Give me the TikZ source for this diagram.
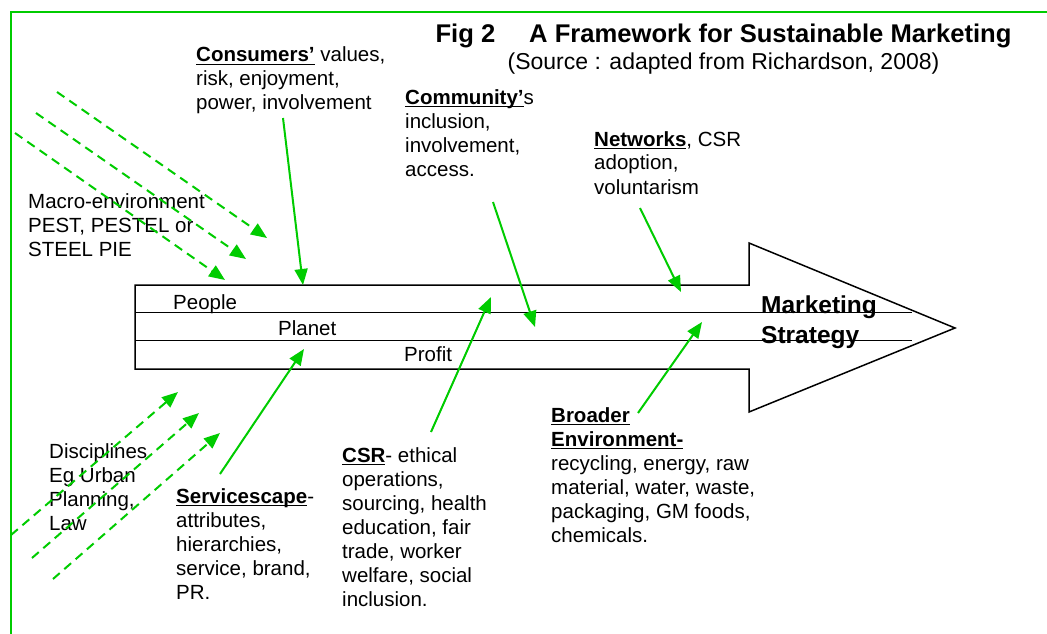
\documentclass[tikz,border=0pt]{standalone}
\usepackage{fontspec}
\setmainfont{Liberation Sans}
\usetikzlibrary{arrows.meta}
\definecolor{grn}{RGB}{0,204,0}
\newcommand\myul[1]{\setbox0\hbox{#1}\rlap{\rule[-2.8pt]{\wd0}{1.2pt}}\box0\relax}
\newcommand\txtblock[1]{\vtop{\baselineskip=24pt\lineskiplimit=-100pt\lineskip=0pt #1}}
\newcommand\rowx[1]{\hbox{#1}}
\begin{document}
\begin{tikzpicture}[x=1pt,y=-1pt,
  body/.style={font=\fontsize{20.5}{24}\selectfont, inner sep=0pt, anchor=base west},
  solidarrow/.style={draw=grn, line width=2pt, -{Triangle[length=16pt,width=13pt]}},
  dasharrow/.style={draw=grn, line width=2pt, dash pattern=on 9pt off 6pt, -{Triangle[length=16pt,width=13pt]}},
  outline/.style={draw=black, line width=1.5pt}]
\useasboundingbox (0,0) rectangle (1047,634);
\fill[white] (0,0) rectangle (1047,634);
% border
\draw[grn, line width=1.5pt] (1047,12) -- (11,12) -- (11,634);
% title
\node[font=\fontsize{25.6}{30}\selectfont\bfseries, inner sep=0pt, anchor=base] (title) at (723.5,43) {Fig 2\hspace*{34pt}A Framework for Sustainable Marketing};
\node[font=\fontsize{23}{27}\selectfont, inner sep=0pt, anchor=base] (source) at (723.5,70) {(Source : adapted from Richardson, 2008)};
% big arrow
\draw[outline, line join=miter] (135,285) -- (749,285) -- (749,243) -- (955,328) -- (749,412) -- (749,369) -- (135,369) -- cycle;
\draw[outline] (135,312.5) -- (912,312.5);
\draw[outline] (135,340.5) -- (912,340.5);
\node[body] (people) at (173,309) {People};
\node[body] (planet) at (278,335) {Planet};
\node[body] (profit) at (404,361) {Profit};
\node[font=\fontsize{24.5}{30}\selectfont\bfseries, inner sep=0pt, anchor=base west] (mkt) at (761,313)
  {\vtop{\baselineskip=30pt\lineskiplimit=-100pt\lineskip=0pt \rowx{Marketing}\rowx{Strategy}}};
% text blocks
\node[body] (cons) at (196,62) {\txtblock{\rowx{\myul{\textbf{Consumers’}} values,}\rowx{risk, enjoyment,}\rowx{power, involvement}}};
\node[body] (comm) at (405,104) {\txtblock{\rowx{\myul{\textbf{Community’}}s}\rowx{inclusion,}\rowx{involvement,}\rowx{access.}}};
\node[body] (netw) at (594,146) {\txtblock{\rowx{\myul{\textbf{Networks}}, CSR}\rowx{adoption,}\rowx{voluntarism}}};
\node[body] (macro) at (28,208) {\txtblock{\rowx{Macro-environment}\rowx{PEST, PESTEL or}\rowx{STEEL PIE}}};
\node[body] (disc) at (49,458) {\txtblock{\rowx{Disciplines}\rowx{Eg Urban}\rowx{Planning,}\rowx{Law}}};
\node[body] (serv) at (176,503) {\txtblock{\rowx{\myul{\textbf{Servicescape}}-}\rowx{attributes,}\rowx{hierarchies,}\rowx{service, brand,}\rowx{PR.}}};
\node[body] (csr) at (342,462) {\txtblock{\rowx{\myul{\textbf{CSR}}- ethical}\rowx{operations,}\rowx{sourcing, health}\rowx{education, fair}\rowx{trade, worker}\rowx{welfare, social}\rowx{inclusion.}}};
\node[body] (broad) at (551,422) {\txtblock{\rowx{\myul{\textbf{Broader}}}\rowx{\myul{\textbf{Environment-}}}\rowx{recycling, energy, raw}\rowx{material, water, waste,}\rowx{packaging, GM foods,}\rowx{chemicals.}}};
% connector end points
\coordinate (consS) at (283,118);  \coordinate (consE) at (303,285);
\coordinate (commS) at (493,202);  \coordinate (commE) at (535,327);
\coordinate (netwS) at (640,208);  \coordinate (netwE) at (681,292);
\coordinate (servS) at (220,474);  \coordinate (servE) at (304,349);
\coordinate (csrS) at (431,432);   \coordinate (csrE) at (491,297);
\coordinate (broadS) at (638,413); \coordinate (broadE) at (702,322);
\coordinate (m1S) at (57,92);  \coordinate (m1E) at (267,238);
\coordinate (m2S) at (36,113); \coordinate (m2E) at (246,259);
\coordinate (m3S) at (15,133); \coordinate (m3E) at (225,280);
\coordinate (d1S) at (11,535); \coordinate (d1E) at (178,392);
\coordinate (d2S) at (32,558); \coordinate (d2E) at (199,413);
\coordinate (d3S) at (53,579); \coordinate (d3E) at (220,433);
% solid arrows
\draw[solidarrow] (consS) -- (consE);
\draw[solidarrow] (commS) -- (commE);
\draw[solidarrow] (netwS) -- (netwE);
\draw[solidarrow] (servS) -- (servE);
\draw[solidarrow] (csrS) -- (csrE);
\draw[solidarrow] (broadS) -- (broadE);
% dashed arrows
\draw[dasharrow] (m1S) -- (m1E);
\draw[dasharrow] (m2S) -- (m2E);
\draw[dasharrow] (m3S) -- (m3E);
\draw[dasharrow] (d1S) -- (d1E);
\draw[dasharrow] (d2S) -- (d2E);
\draw[dasharrow] (d3S) -- (d3E);
\end{tikzpicture}
\end{document}
